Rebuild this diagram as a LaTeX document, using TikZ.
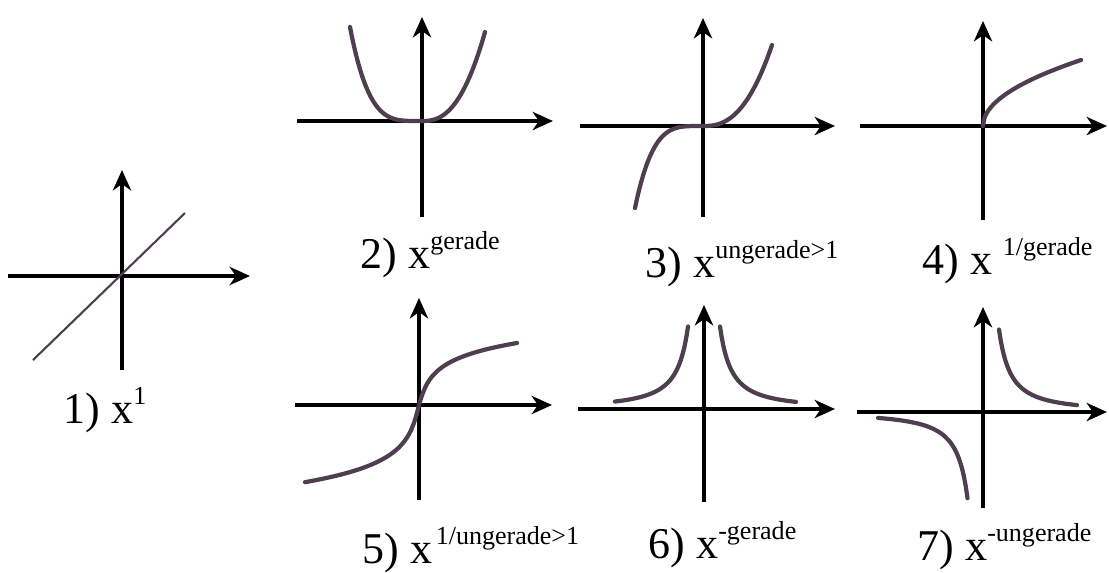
\documentclass[tikz,border=0pt]{standalone}
\usepackage{fontspec}
\setmainfont{Liberation Serif}
\usetikzlibrary{arrows.meta}
\definecolor{graph}{HTML}{4F3D50}
\newcommand{\expo}[1]{\raisebox{5.4pt}{\fontsize{7.4}{8}\selectfont #1}}

\begin{document}
\begin{tikzpicture}[x=0.01cm,y=-0.01cm,
  axis/.style={line width=1.05pt,-{Stealth[length=5.8pt,width=5.2pt,inset=1.8pt]}},
  curve/.style={line width=1.2pt,graph,line cap=round},
  lbl/.style={anchor=base west,inner sep=0pt,font=\fontsize{12.5}{15}\selectfont}]
\useasboundingbox (0,0) rectangle (1109,572);
% axes: origin / left / right / top / bottom
\foreach \ox/\oy/\l/\r/\t/\b [count=\i] in {122/276/8/250/170/370,
    422/121/297/553/17/217, 703/126/580/835/18/217, 983/126/860/1107/21/220,
    419/405/295/552/298/500, 704/409/578/835/305/502, 983/412/857/1107/307/508}{
  \coordinate (o\i) at (\ox,\oy);
  \draw[axis] (\l,\oy) -- (\r,\oy);
  \draw[axis] (\ox,\b) -- (\ox,\t);
}
% 1) x^1
\draw[graph,line width=0.6pt] ([shift={(-89,84)}]o1) -- ([shift={(63,-63)}]o1);
% 2) even power
\begin{scope}[shift={(o2)}]
\draw[curve] plot[domain=-72:0,samples=40] (\x,{-94*(abs(\x)/72)^4})
  -- plot[domain=0.5:63,samples=40] (\x,{-89*(\x/63)^2.5});
\end{scope}
% 3) odd power
\begin{scope}[shift={(o3)}]
\draw[curve] plot[domain=-68:0,samples=40] (\x,{82*(abs(\x)/68)^4})
  -- plot[domain=0.5:69,samples=40] (\x,{-81*(\x/69)^2.5});
\end{scope}
% 4) even root
\begin{scope}[shift={(o4)}]
\draw[curve] plot[domain=0:98,samples=80] (\x,{-66*sqrt(\x/98)});
\end{scope}
% 5) odd root
\begin{scope}[shift={(o5)}]
\draw[curve] plot[domain=-114:0,samples=60] (\x,{20.2*ln((abs(\x)+sqrt(\x*\x+25))/5)})
  -- plot[domain=0:98,samples=60] (\x,{-16.9*ln((\x+sqrt(\x*\x+25))/5)});
\end{scope}
% 6) negative even power
\begin{scope}[shift={(o6)}]
\draw[curve] plot[domain=-89:-16,samples=50] (\x,{-4000/(abs(\x)^1.4)});
\draw[curve] plot[domain=16:92,samples=50] (\x,{-4000/(\x^1.4)});
\end{scope}
% 7) negative odd power
\begin{scope}[shift={(o7)}]
\draw[curve] plot[domain=-105:-15.5,samples=50] (\x,{4000/(abs(\x)^1.4)});
\draw[curve] plot[domain=16:94,samples=50] (\x,{-4000/(\x^1.4)});
\end{scope}
% labels
\node[lbl] (l1) at (63,423) {1) x\expo{1}};
\node[lbl] (l2) at (360,268) {2) x\expo{gerade}};
\node[lbl] (l3) at (645,277) {3) x\expo{ungerade>1}};
\node[lbl] (l4) at (922,274) {4) x\hspace{3pt}\expo{1/gerade}};
\node[lbl] (l5) at (362,563) {5) x\hspace{1pt}\expo{1/ungerade>1}};
\node[lbl] (l6) at (648,558) {6) x\expo{-gerade}};
\node[lbl] (l7) at (917,560) {7) x\expo{-ungerade}};
\end{tikzpicture}
\end{document}
